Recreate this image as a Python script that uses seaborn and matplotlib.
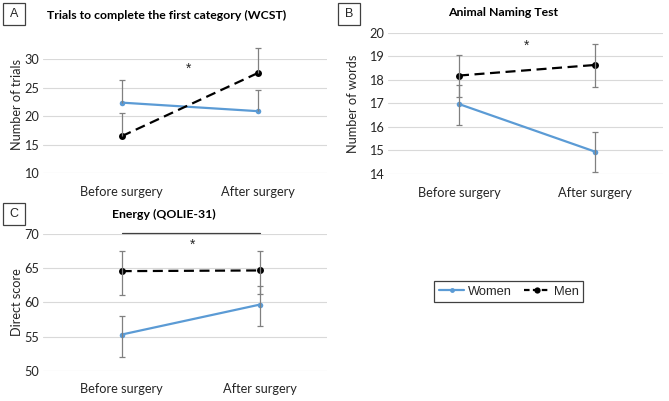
import matplotlib
matplotlib.use('Agg')
import matplotlib.pyplot as plt
import seaborn as sns
import pandas as pd
from matplotlib.lines import Line2D
from matplotlib.patches import Rectangle

# ---------------- data ----------------
timepoints = ['Before surgery', 'After surgery']
groups = ['Women', 'Men']

# Panel A: Trials to complete the first category (WCST)
wcst_women = [22.4, 20.9]
wcst_men = [16.5, 27.6]
wcst_women_high = [26.3, 24.7]
wcst_men_high = [20.6, 31.9]

# Panel B: Animal Naming Test
ant_women = [16.97, 14.95]
ant_men = [18.18, 18.63]
ant_women_low = [16.08, 14.08]
ant_women_high = [17.78, 15.78]
ant_men_low = [17.27, 17.70]
ant_men_high = [19.06, 19.52]

# Panel C: Energy (QOLIE-31)
energy_women = [55.3, 59.7]
energy_men = [64.6, 64.7]
energy_women_low = [52.0, 56.5]
energy_women_high = [58.0, 62.4]
energy_men_low = [61.1, 61.2]
energy_men_high = [67.5, 67.5]

# ---------------- style ----------------
sns.set_theme(style='white')
plt.rcParams['font.family'] = ['Lato', 'DejaVu Sans']

W, H = 669, 401
fig = plt.figure(figsize=(W / 100, H / 100), dpi=100)

BLUE = '#5b9bd5'
BLACK = '#000000'
ERR = '#808080'
GRID = '#d9d9d9'
TXT = '#262626'
FS = 9.2


def ax_px(l, t, r, b):
    return fig.add_axes([l / W, 1 - b / H, (r - l) / W, (b - t) / H])


def star(ax, x, y):
    fs = 10
    ax.annotate('*', xy=(x, y), xytext=(0, -0.55 * fs), textcoords='offset points',
                ha='center', va='baseline', fontsize=fs, color=TXT,
                family=['Liberation Sans', 'DejaVu Sans'])


def panel(ax, women, men, w_lo, w_hi, m_lo, m_hi, ylim, yticks, xlim, ylabel,
          ylab_xy, upper_only=False):
    xs = [0, 1]
    dfw = pd.DataFrame({'x': xs, 'y': women})
    dfm = pd.DataFrame({'x': xs, 'y': men})
    sns.lineplot(data=dfw, x='x', y='y', ax=ax, color=BLUE, linewidth=1.6,
                 marker='o', markersize=4, markeredgewidth=0, errorbar=None,
                 zorder=3)
    sns.lineplot(data=dfm, x='x', y='y', ax=ax, color=BLACK, linewidth=1.6,
                 linestyle=(0, (4.5, 2.5)), marker='o', markersize=5,
                 markeredgewidth=0, errorbar=None, zorder=3)
    for vals, lo, hi in ((women, w_lo, w_hi), (men, m_lo, m_hi)):
        lo_err = [v - l for v, l in zip(vals, lo)]
        hi_err = [h - v for v, h in zip(vals, hi)]
        cont = ax.errorbar(xs, vals, yerr=[lo_err, hi_err], fmt='none',
                           ecolor=ERR, elinewidth=0.9, capsize=2.2,
                           capthick=0.9, zorder=4, clip_on=False)
        for c in cont.lines[1]:
            c.set_clip_on(False)
        for c in cont.lines[2]:
            c.set_clip_on(False)
        if upper_only:
            cont.lines[1][0].set_visible(False)
    ax.set_ylim(*ylim)
    ax.set_yticks(yticks)
    ax.set_xlim(*xlim)
    ax.set_xticks(xs)
    ax.set_xticklabels(timepoints)
    ax.yaxis.grid(True, color=GRID, linewidth=0.8)
    ax.xaxis.grid(False)
    ax.set_axisbelow(True)
    for s in ax.spines.values():
        s.set_visible(False)
    ax.tick_params(axis='both', length=0, labelsize=FS, colors=TXT)
    ax.tick_params(axis='y', pad=3)
    ax.tick_params(axis='x', pad=9)
    ax.set_xlabel('')
    ax.set_ylabel(ylabel, fontsize=FS, color=TXT)
    ax.yaxis.label.set_verticalalignment('center')
    ax.yaxis.set_label_coords(*ylab_xy)


# Panel A
axA = ax_px(43, 59.3, 327, 173.3)
panel(axA, wcst_women, wcst_men, wcst_women, wcst_women_high, wcst_men,
      wcst_men_high, (10, 30), [10, 15, 20, 25, 30], (-0.577, 1.507),
      'Number of trials', (-0.0915, 0.6), upper_only=True)
star(axA, 0.49, 29.0)

# Panel B
axB = ax_px(388, 32.7, 663, 174)
panel(axB, ant_women, ant_men, ant_women_low, ant_women_high, ant_men_low,
      ant_men_high, (14, 20), [14, 15, 16, 17, 18, 19, 20], (-0.522, 1.50),
      'Number of words', (-0.127, 0.5))
star(axB, 0.5, 19.62)

# Panel C
axC = ax_px(43, 234.3, 327, 370.7)
panel(axC, energy_women, energy_men, energy_women_low, energy_women_high,
      energy_men_low, energy_men_high, (50, 70), [50, 55, 60, 65, 70],
      (-0.569, 1.484), 'Direct score', (-0.0915, 0.5))
axC.plot([0, 1], [70.15, 70.15], color='#404040', linewidth=0.9,
         clip_on=False, zorder=5)
star(axC, 0.51, 69.05)

# Titles
TFS = 8.8
fig.text(167 / W, 1 - 15 / H, 'Trials to complete the first category (WCST)',
         ha='center', va='center', fontsize=TFS, fontweight='bold', color='#000')
fig.text(503 / W, 1 - 12 / H, 'Animal Naming Test', ha='center', va='center',
         fontsize=TFS, fontweight='bold', color='#000')
fig.text(164 / W, 1 - 214 / H, 'Energy (QOLIE-31)', ha='center', va='center',
         fontsize=TFS, fontweight='bold', color='#000')

# Panel letter boxes
for letter, (l, t) in (('A', (3, 3)), ('B', (338, 3)), ('C', (3, 203))):
    fig.patches.append(Rectangle((l / W, 1 - (t + 22) / H), 22 / W, 22 / H,
                                 transform=fig.transFigure, fill=False,
                                 edgecolor='#404040', linewidth=0.9))
    fig.text((l + 11) / W, 1 - (t + 11) / H, letter, ha='center', va='center',
             fontsize=9, color=TXT, family=['Liberation Sans', 'DejaVu Sans'])

# Legend
handles = [
    Line2D([], [], color=BLUE, linewidth=1.6, marker='o', markersize=3.5,
           markeredgewidth=0),
    Line2D([], [], color=BLACK, linewidth=1.6, linestyle=(0, (2.5, 1.5)),
           marker='o', markersize=4.5, markeredgewidth=0),
]
leg = fig.legend(handles, groups, loc='center',
                 bbox_to_anchor=(508.5 / W, 1 - 291.5 / H), ncol=2,
                 frameon=True, fancybox=False, framealpha=1,
                 edgecolor='#404040', handlelength=2.0, handletextpad=0.25,
                 columnspacing=1.0, borderpad=0.35, borderaxespad=0,
                 prop={'family': ['Liberation Sans', 'DejaVu Sans'], 'size': 9.3})
leg.get_frame().set_linewidth(0.9)
for t in leg.get_texts():
    t.set_color(TXT)

fig.savefig('out.png', dpi=100)
